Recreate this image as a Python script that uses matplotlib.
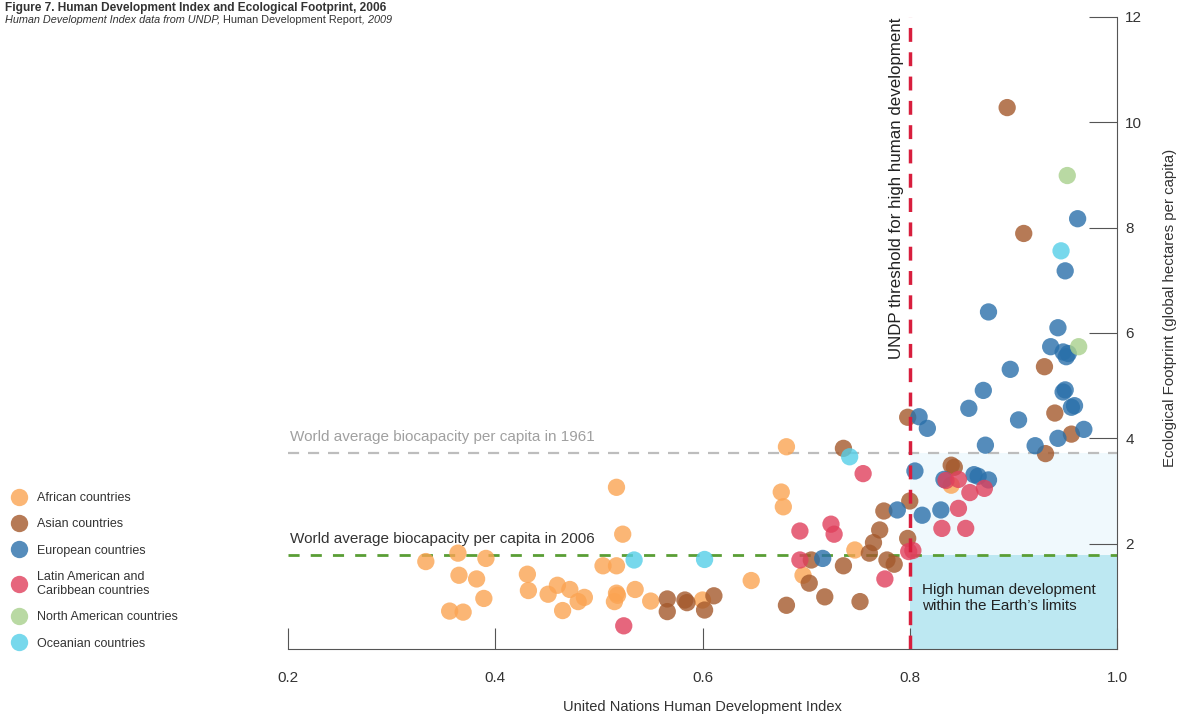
import numpy as np
import matplotlib
matplotlib.use("Agg")
import matplotlib.pyplot as plt
from matplotlib.lines import Line2D

plt.rcParams['font.family'] = ['Liberation Sans', 'DejaVu Sans']

# =========================
# Data (HDI, Ecological Footprint)
# =========================
africa_hdi = [0.333, 0.364, 0.391, 0.365, 0.382, 0.389, 0.356, 0.369, 0.431, 0.432,
              0.451, 0.460, 0.472, 0.465, 0.480, 0.486, 0.504, 0.517, 0.517, 0.515,
              0.518, 0.517, 0.523, 0.535, 0.550, 0.600, 0.647, 0.681, 0.676, 0.678,
              0.697, 0.747, 0.840]
africa_ef = [1.66, 1.82, 1.72, 1.40, 1.33, 0.96, 0.72, 0.70, 1.42, 1.11,
             1.04, 1.21, 1.13, 0.73, 0.90, 0.98, 1.58, 1.58, 1.06, 0.90,
             1.02, 3.07, 2.18, 1.13, 0.91, 0.93, 1.30, 3.84, 2.98, 2.70,
             1.40, 1.88, 3.11]

asia_hdi = [0.894, 0.910, 0.930, 0.940, 0.956, 0.931, 0.798, 0.840, 0.843, 0.736,
            0.775, 0.800, 0.771, 0.765, 0.761, 0.778, 0.785, 0.798, 0.752, 0.705,
            0.736, 0.703, 0.718, 0.681, 0.566, 0.566, 0.583, 0.585, 0.611, 0.602]
asia_ef = [10.28, 7.89, 5.36, 4.48, 4.08, 3.71, 4.40, 3.49, 3.45, 3.81,
           2.62, 2.81, 2.26, 2.02, 1.82, 1.69, 1.61, 2.10, 0.90, 1.69,
           1.58, 1.25, 0.99, 0.83, 0.95, 0.71, 0.93, 0.88, 1.01, 0.74]

europe_hdi = [0.962, 0.950, 0.876, 0.943, 0.936, 0.948, 0.951, 0.953, 0.897, 0.871,
              0.857, 0.948, 0.950, 0.956, 0.959, 0.905, 0.968, 0.943, 0.921, 0.873,
              0.809, 0.817, 0.805, 0.862, 0.866, 0.876, 0.830, 0.812, 0.788, 0.716,
              0.833]
europe_ef = [8.17, 7.18, 6.40, 6.10, 5.74, 5.64, 5.55, 5.61, 5.31, 4.91,
             4.57, 4.88, 4.92, 4.59, 4.62, 4.35, 4.17, 4.00, 3.86, 3.87,
             4.41, 4.19, 3.38, 3.31, 3.28, 3.21, 2.64, 2.54, 2.64, 1.72,
             3.22]

latin_hdi = [0.755, 0.694, 0.724, 0.727, 0.799, 0.803, 0.776, 0.694, 0.524, 0.847,
             0.835, 0.858, 0.872, 0.847, 0.831, 0.854]
latin_ef = [3.33, 2.24, 2.37, 2.18, 1.85, 1.87, 1.33, 1.69, 0.44, 3.22,
            3.20, 2.97, 3.05, 2.67, 2.29, 2.29]

namerica_hdi = [0.952, 0.963]
namerica_ef = [8.99, 5.74]

oceania_hdi = [0.946, 0.742, 0.534, 0.602]
oceania_ef = [7.56, 3.65, 1.69, 1.70]

groups = [
    ("African countries", africa_hdi, africa_ef, "#fba452"),
    ("Asian countries", asia_hdi, asia_ef, "#a4592c"),
    ("European countries", europe_hdi, europe_ef, "#2a70aa"),
    ("Latin American and\nCaribbean countries", latin_hdi, latin_ef, "#e0405c"),
    ("North American countries", namerica_hdi, namerica_ef, "#a8d08c"),
    ("Oceanian countries", oceania_hdi, oceania_ef, "#55cfe8"),
]

biocap_1961 = 3.72
biocap_2006 = 1.78
hdi_threshold = 0.8

# =========================
# Plot
# =========================
fig = plt.figure(figsize=(11.8, 7.15), dpi=100)
ax = fig.add_axes([288 / 1180, 66 / 715, 829 / 1180, 632 / 715])

ax.set_xlim(0.2, 1.0)
ax.set_ylim(0, 12)

# shaded zones
ax.fill_between([hdi_threshold, 1.0], 0, biocap_2006, color="#bde8f2", zorder=0, lw=0)
ax.fill_between([hdi_threshold, 1.0], biocap_2006, biocap_1961, color="#f0f9fd", zorder=0, lw=0)

# reference lines
ax.axhline(biocap_1961, color="#bdbdbd", lw=1.6, ls=(0, (5, 4)), zorder=1)
ax.axhline(biocap_2006, color="#5a9e35", lw=2, ls=(0, (4, 4)), zorder=1)
ax.axvline(hdi_threshold, color="#d81e3d", lw=2.5, ls=(0, (4, 3)), zorder=4)

for label, hdi, ef, col in groups:
    ax.scatter(hdi, ef, s=155, color=col, alpha=0.8, edgecolors="none", zorder=3)

# annotations
ax.text(0.202, biocap_1961 + 0.18, "World average biocapacity per capita in 1961",
        color="#a0a0a0", fontsize=11, va="bottom")
ax.text(0.202, biocap_2006 + 0.18, "World average biocapacity per capita in 2006",
        color="#333333", fontsize=11, va="bottom")
ax.text(hdi_threshold - 0.006, 11.98, "UNDP threshold for high human development",
        rotation=90, color="#222222", fontsize=12.2, ha="right", va="top")
ax.text(0.812, 0.97, "High human development\nwithin the Earth\u2019s limits",
        color="#222222", fontsize=11, va="center", linespacing=1.2)

# axes styling
for side in ["left", "top"]:
    ax.spines[side].set_visible(False)
ax.spines["bottom"].set_color("#555555")
ax.spines["right"].set_color("#555555")

ax.set_xticks([0.2, 0.4, 0.6, 0.8, 1.0])
ax.set_xticklabels(["0.2", "0.4", "0.6", "0.8", "1.0"])
ax.tick_params(axis="x", direction="in", length=15, pad=16, color="#555555",
               labelsize=11, labelcolor="#333333")

ax.yaxis.tick_right()
ax.set_yticks([2, 4, 6, 8, 10, 12])
ax.tick_params(axis="y", direction="in", length=20, pad=6, color="#555555",
               labelsize=11, labelcolor="#333333")

fig.text((288 + 1117) / 2 / 1180, 1 - 707 / 715, "United Nations Human Development Index",
         ha="center", va="center", fontsize=10.5, color="#333333")
fig.text(1170 / 1180, 1 - 308 / 715, "Ecological Footprint (global hectares per capita)",
         rotation=90, ha="center", va="center", fontsize=10.8, color="#333333")

# title
fig.text(5 / 1180, 1 - 8 / 715, "Figure 7. Human Development Index and Ecological Footprint, 2006",
         fontsize=8.6, fontweight="bold", color="#333333", va="center")
t1 = fig.text(5 / 1180, 1 - 20 / 715, "Human Development Index data from UNDP, ",
              fontsize=7.8, style="italic", color="#333333", va="center")
t2 = fig.text(0, 0, "Human Development Report", fontsize=7.8, color="#333333",
              va="bottom", transform=t1.get_transform())
fig.canvas.draw()
bb = t1.get_window_extent()
inv = fig.transFigure.inverted()
x1, y1 = inv.transform((bb.x1, bb.y0))
t2.set_position((x1, y1))
bb2 = t2.get_window_extent()
x2, _ = inv.transform((bb2.x1, bb2.y0))
fig.text(x2, y1, ", 2009", fontsize=7.8, style="italic", color="#333333", va="bottom")

# legend
handles = [Line2D([0], [0], marker="o", ls="none", markersize=12.5, markerfacecolor=col,
                  markeredgecolor="none", alpha=0.8) for _, _, _, col in groups]
labels = [g[0] for g in groups]
fig.legend(handles, labels, loc="upper left", bbox_to_anchor=(6 / 1180, 1 - 487 / 715),
           frameon=False, fontsize=9, labelspacing=1.15, handletextpad=0.9,
           handlelength=1.2, borderaxespad=0, labelcolor="#333333")

fig.savefig("out.png", dpi=100)
plt.close(fig)
